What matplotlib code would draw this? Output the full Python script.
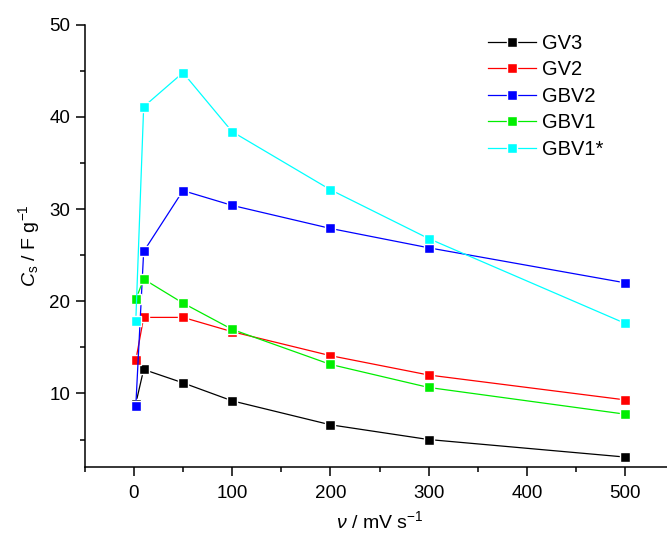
import numpy as np
import matplotlib
matplotlib.use('Agg')
import matplotlib.pyplot as plt
from matplotlib.ticker import MultipleLocator

plt.rcParams['font.family'] = ['Liberation Sans', 'DejaVu Sans']
plt.rcParams['mathtext.fontset'] = 'custom'
plt.rcParams['mathtext.rm'] = 'Liberation Sans'
plt.rcParams['mathtext.it'] = 'Liberation Sans:italic'

# scan rate (mV/s)
rate = [2, 10, 50, 100, 200, 300, 500]

gv3 = [8.9, 12.6, 11.15, 9.2, 6.6, 5.0, 3.1]
gv2 = [13.6, 18.25, 18.25, 16.7, 14.1, 12.0, 9.3]
gbv2 = [8.65, 25.4, 32.0, 30.4, 27.9, 25.8, 22.0]
gbv1 = [20.2, 22.4, 19.8, 16.95, 13.15, 10.65, 7.75]
gbv1s = [17.9, 41.1, 44.8, 38.4, 32.1, 26.8, 17.6]

names = ['GV3', 'GV2', 'GBV2', 'GBV1', 'GBV1*']
colors = ['black', 'red', 'blue', '#00ee00', 'cyan']

fig = plt.figure(figsize=(6.67, 5.37), dpi=100)
ax = fig.add_axes([0.127, 0.130, 0.884, 0.824])

for y, name, c in zip([gv3, gv2, gbv2, gbv1, gbv1s], names, colors):
    ax.plot(rate, y, color=c, lw=0.9, marker='s', ms=7.8, mec='white',
            mew=1.0, label=name)

ax.set_xlim(-50, 550)
ax.set_ylim(2, 50)
ax.xaxis.set_major_locator(MultipleLocator(100))
ax.xaxis.set_minor_locator(MultipleLocator(50))
ax.yaxis.set_major_locator(MultipleLocator(10))
ax.yaxis.set_minor_locator(MultipleLocator(5))
ax.spines['top'].set_visible(False)
ax.spines['right'].set_visible(False)
for s in ['left', 'bottom']:
    ax.spines[s].set_linewidth(1.1)
ax.tick_params(which='major', direction='out', length=6.5, width=1.1,
               labelsize=13.5)
ax.tick_params(axis='x', which='major', pad=6)
ax.tick_params(axis='y', which='major', pad=4)
ax.tick_params(which='minor', direction='out', length=3.6, width=1.1)

ax.set_xlabel(r'$\nu$ / mV s$^{\mathregular{-1}}$', fontsize=14, labelpad=6)
ax.set_ylabel(r'$C_\mathregular{s}$ / F g$^{\mathregular{-1}}$', fontsize=14,
              labelpad=5)

ax.legend(loc='upper left', bbox_to_anchor=(488 / 667, 1 - 34 / 537),
          bbox_transform=fig.transFigure, frameon=False, fontsize=14.5,
          handlelength=2.4, handletextpad=0.3, labelspacing=0.37,
          borderpad=0, borderaxespad=0)

fig.savefig('out.png', dpi=100)
